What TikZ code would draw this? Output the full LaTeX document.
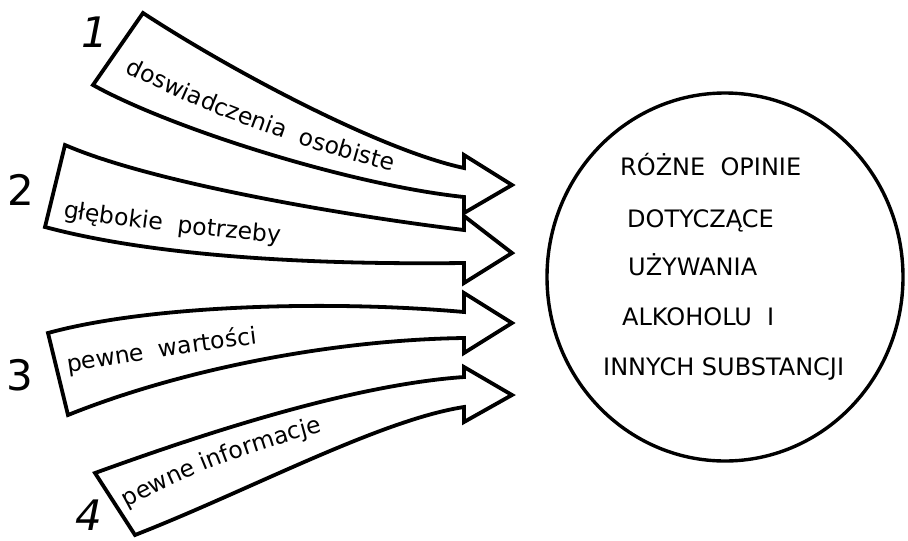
\documentclass[tikz,border=0pt]{standalone}
\usepackage{fontspec}
\setmainfont{DejaVu Sans}
\usetikzlibrary{decorations.text,shapes.geometric}
\newcommand\arrowtext{\fontsize{23.5}{24}\selectfont}
\newcommand\captextfont{\fontsize{24}{24}\selectfont}
\tikzset{
  bigarrow/.style={draw=black, line width=3.8pt, fill=white, line join=miter},
  onarrow/.style={decorate, decoration={text along path, text align=left, text={#1}}},
  captext/.style={anchor=base west, inner sep=0pt, font=\captextfont},
  digit/.style={inner sep=0pt, font=\fontsize{42}{42}\selectfont},
}
\begin{document}
\begin{tikzpicture}[x=1pt, y=-1pt]
\useasboundingbox (0,0) rectangle (908,541);

% four broad curved arrows
\draw[bigarrow] (143,13) .. controls (230,70) and (380,150) .. (464,168)
  -- (464,155) -- (512,185) -- (464,213) -- (464,197)
  .. controls (350,185) and (170,128) .. (93,85) -- cycle;
\draw[bigarrow] (65,145) .. controls (150,182) and (340,215) .. (464,230)
  -- (464,216) -- (512,253) -- (464,283) -- (464,263)
  .. controls (300,265) and (150,255) .. (45,227) -- cycle;
\draw[bigarrow] (48,333) .. controls (150,305) and (330,300) .. (464,312)
  -- (464,293) -- (512,323) -- (464,353) -- (464,338)
  .. controls (330,340) and (180,370) .. (68,415) -- cycle;
\draw[bigarrow] (95,473) .. controls (200,435) and (350,385) .. (464,377)
  -- (464,367) -- (512,395) -- (464,422) -- (464,407)
  .. controls (380,420) and (250,490) .. (135,535) -- cycle;

% labels running along the arrows
\path[onarrow={|\arrowtext|doswiadczenia{~}{~}osobiste}]
  (125,72) .. controls (200,110) and (300,150) .. (420,178);
\path[onarrow={|\arrowtext|głębokie{~}{~}potrzeby}]
  (63,217) .. controls (130,227) and (210,238) .. (330,247);
\path[onarrow={|\arrowtext|pewne{~}{~}wartości}]
  (68,372) .. controls (130,363) and (200,349) .. (310,338);
\path[onarrow={|\arrowtext|pewne{~}informacje}]
  (127,508) .. controls (185,476) and (262,443) .. (375,420);

% numbers
\node[digit] (n1) at (95,32) {\itshape 1};
\node[digit] (n2) at (21,190) {2};
\node[digit] (n3) at (20,375) {3};
\node[digit] (n4) at (89,515) {\itshape 4};

% circle with its text
\node[draw=black, ellipse, line width=3.4pt, minimum width=356pt,
      minimum height=368pt, inner sep=0pt] (opinie) at (725,277) {};
\node[captext] (t1) at (620,175) {RÓŻNE~~OPINIE};
\node[captext] (t2) at (627,227) {DOTYCZĄCE};
\node[captext] (t3) at (628,275) {UŻYWANIA};
\node[captext] (t4) at (622,325) {ALKOHOLU~~I};
\node[captext] (t5) at (603,375) {INNYCH~SUBSTANCJI};
\end{tikzpicture}
\end{document}
